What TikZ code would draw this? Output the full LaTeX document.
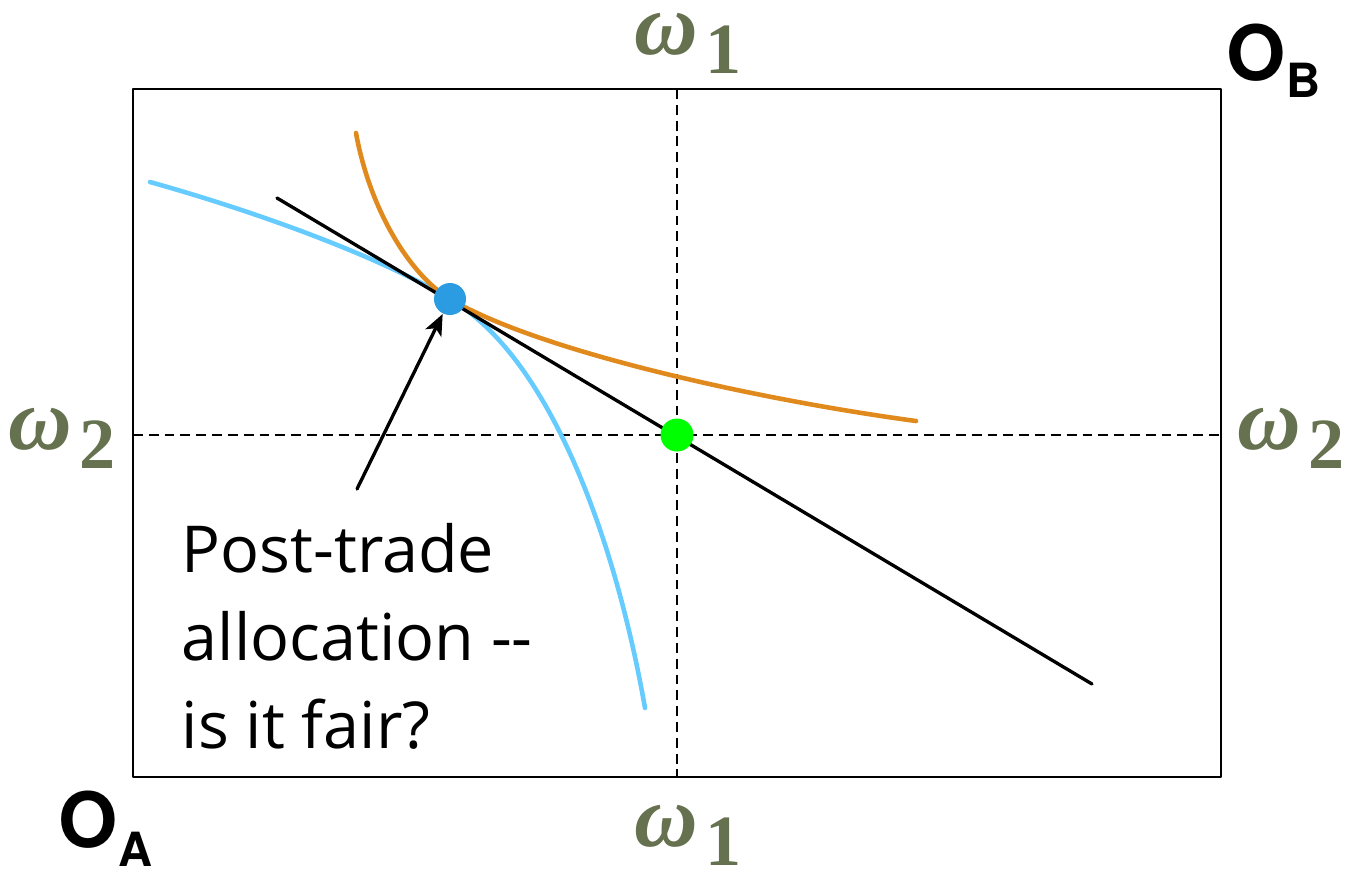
\documentclass[tikz,border=0pt]{standalone}
\usepackage{fontspec}
\setsansfont{Open Sans}
\newfontfamily\headfont{TeX Gyre Heros}
\newfontfamily\omegafont{Liberation Serif}
\usetikzlibrary{arrows.meta}

\definecolor{omegagreen}{HTML}{65714F}
\definecolor{curveA}{HTML}{66CCFF}
\definecolor{curveB}{HTML}{E08A1E}
\definecolor{dotblue}{HTML}{2B9BE2}
\definecolor{dotgreen}{HTML}{00FF00}

% omega with a large lowered index
\newcommand{\omegasym}[1]{\scalebox{1.22}{\bfseries\itshape ω}\hspace{0.08cm}\raisebox{-0.19cm}{\bfseries #1}}

\begin{document}
\begin{tikzpicture}[
    x=0.01cm,
    y=-0.01cm,
    line cap=round,
    line join=round,
    boxline/.style={
        line width=0.7pt
    },
    endowline/.style={
        line width=0.6pt,
        dash pattern=on 2.8pt off 1.7pt,
        line cap=butt
    },
    budget/.style={
        line width=0.95pt
    },
    indiff/.style={
        line width=1.3pt
    },
    omegalabel/.style={
        text=omegagreen,
        font=\omegafont\fontsize{20.5}{21}\selectfont,
        inner sep=0pt
    },
    originlabel/.style={
        font=\headfont\bfseries\fontsize{21.7}{22}\selectfont,
        inner sep=0pt
    },
    dot/.style={
        circle,
        inner sep=0pt,
        minimum size=#1
    }
]

\useasboundingbox (0,0) rectangle (1346,872);

% =================================================
% Edgeworth box
% =================================================

\coordinate (A) at (133,777);
\coordinate (B) at (1221,89);

% Endowment
\coordinate (W1top) at (677,89);
\coordinate (W1bot) at (677,777);
\coordinate (W2left) at (133,435);
\coordinate (W2right) at (1221,435);

% Price line
\coordinate (L1) at (277,198);
\coordinate (L2) at (1092,684);

% =================================================
% Endowment lines
% =================================================

\draw[endowline] (W1top)--(W1bot);
\draw[endowline] (W2left)--(W2right);

\draw[boxline] (A) rectangle (B);

% =================================================
% Indifference curves
% =================================================

% Curve of A
\draw[indiff, curveA]
    (150,182) .. controls (250,210) and (375,254) .. (450,299)
    .. controls (550,358) and (615,538) .. (645,708);

% Curve of B
\draw[indiff, curveB]
    (356,133) .. controls (370,210) and (410,275) .. (450,299)
    .. controls (540,352) and (760,400) .. (916,421);

% Price line
\draw[budget] (L1)--(L2);

% =================================================
% Allocations
% =================================================

\node[dot=0.32cm, fill=dotblue] (post) at (450,299) {};
\node[dot=0.33cm, fill=dotgreen] (endow) at (677,435) {};

% =================================================
% Labels
% =================================================

\node[omegalabel] (w1t) at (688,43) {\omegasym{1}};
\node[omegalabel] (w1b) at (688,835) {\omegasym{1}};
\node[omegalabel] (w2l) at (62,438) {\omegasym{2}};
\node[omegalabel] (w2r) at (1291,438) {\omegasym{2}};

\node[originlabel, anchor=base west] (OA) at (58,847)
    {O\raisebox{-0.19cm}{\fontsize{13.4}{14}\selectfont A}};
\node[originlabel, anchor=base west] (OB) at (1226,80)
    {O\raisebox{-0.17cm}{\fontsize{13.4}{14}\selectfont B}};

\node[anchor=north west, align=left, inner sep=0pt,
      font=\sffamily\fontsize{18.4}{25}\selectfont] (note) at (181,523)
    {Post-trade\\allocation -{}-\\is it fair?};

\coordinate (tail) at (357,489);
\draw[budget, -{Stealth[length=6pt,width=5pt,inset=1.5pt]}] (tail)--(post);

\end{tikzpicture}
\end{document}
